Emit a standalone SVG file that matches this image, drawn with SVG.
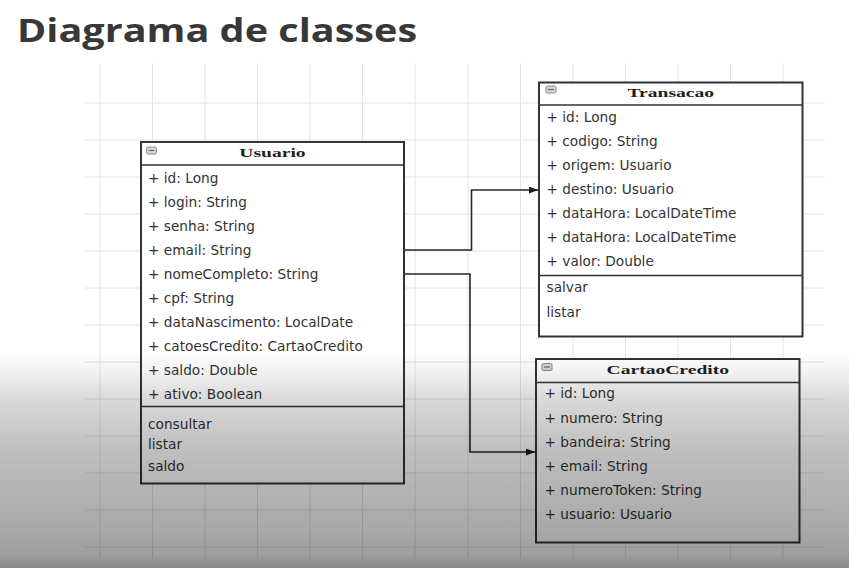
<svg xmlns="http://www.w3.org/2000/svg" width="849" height="568" viewBox="0 0 849 568">
  <defs>
    <style>
      .grid line { stroke: #e4e4e4; stroke-width: 1; }
      .box { fill: #ffffff; stroke: #333333; stroke-width: 2; }
      .sep { stroke: #333333; stroke-width: 1.5; }
      .attr { font-family: "DejaVu Sans", "Liberation Sans", sans-serif; font-size: 13.7px; fill: #333333; }
      .hdr { font-family: "Liberation Serif", serif; font-weight: bold; font-size: 13.5px; fill: #1e1e1e; text-anchor: middle; }
      .icon { fill: #d6d6d6; stroke: #8a8a8a; stroke-width: 1; }
      .icon-bar { stroke: #666666; stroke-width: 1.2; }
      .conn { fill: none; stroke: #262626; stroke-width: 1.6; }
      .title { font-family: "Open Sans", "DejaVu Sans", sans-serif; font-weight: bold; font-size: 33px; fill: #383838; }
    </style>
    <marker id="arrow" markerUnits="userSpaceOnUse" markerWidth="10" markerHeight="8" refX="9" refY="3.5" orient="auto">
      <path d="M0,0 L9,3.5 L0,7 z" fill="#1a1a1a"/>
    </marker>
    <linearGradient id="shade" x1="0" y1="352" x2="0" y2="568" gradientUnits="userSpaceOnUse">
      <stop offset="0" stop-color="#000" stop-opacity="0"/>
      <stop offset="0.1" stop-color="#000" stop-opacity="0.06"/>
      <stop offset="0.22" stop-color="#000" stop-opacity="0.15"/>
      <stop offset="0.45" stop-color="#000" stop-opacity="0.25"/>
      <stop offset="0.82" stop-color="#000" stop-opacity="0.34"/>
      <stop offset="0.94" stop-color="#000" stop-opacity="0.38"/>
      <stop offset="1" stop-color="#000" stop-opacity="0.47"/>
    </linearGradient>
  </defs>

  <rect x="0" y="0" width="849" height="568" fill="#ffffff"/>

  <text class="title" transform="translate(17,42) scale(1.2,1)">Diagrama de classes</text>

  <g id="grid" class="grid">
    <line x1="100" y1="63" x2="100" y2="558"/>
    <line x1="152.5" y1="63" x2="152.5" y2="558"/>
    <line x1="205" y1="63" x2="205" y2="558"/>
    <line x1="257.5" y1="63" x2="257.5" y2="558"/>
    <line x1="310" y1="63" x2="310" y2="558"/>
    <line x1="362.5" y1="63" x2="362.5" y2="558"/>
    <line x1="415" y1="63" x2="415" y2="558"/>
    <line x1="468" y1="63" x2="468" y2="558"/>
    <line x1="520.5" y1="63" x2="520.5" y2="558"/>
    <line x1="573" y1="63" x2="573" y2="558"/>
    <line x1="625.5" y1="63" x2="625.5" y2="558"/>
    <line x1="678" y1="63" x2="678" y2="558"/>
    <line x1="730.5" y1="63" x2="730.5" y2="558"/>
    <line x1="783" y1="63" x2="783" y2="558"/>
    <line x1="85" y1="103" x2="825" y2="103"/>
    <line x1="85" y1="140" x2="825" y2="140"/>
    <line x1="85" y1="177" x2="825" y2="177"/>
    <line x1="85" y1="214" x2="825" y2="214"/>
    <line x1="85" y1="251" x2="825" y2="251"/>
    <line x1="85" y1="288" x2="825" y2="288"/>
    <line x1="85" y1="325" x2="825" y2="325"/>
    <line x1="85" y1="362" x2="825" y2="362"/>
    <line x1="85" y1="399" x2="825" y2="399"/>
    <line x1="85" y1="436" x2="825" y2="436"/>
    <line x1="85" y1="473" x2="825" y2="473"/>
    <line x1="85" y1="510" x2="825" y2="510"/>
    <line x1="85" y1="547" x2="825" y2="547"/>
  </g>

  <g id="connectors">
    <path class="conn" d="M404,250 H471.5 V190 H538" marker-end="url(#arrow)"/>
    <path class="conn" d="M404,274 H470 V452 H535" marker-end="url(#arrow)"/>
  </g>

  <g id="Usuario">
    <rect class="box" x="141" y="142" width="263" height="341.5"/>
    <line class="sep" x1="141" y1="165" x2="404" y2="165"/>
    <line class="sep" x1="141" y1="406.5" x2="404" y2="406.5"/>
    <rect class="icon" x="146.5" y="147" width="10" height="7" rx="1.5"/>
    <line class="icon-bar" x1="148.5" y1="150.5" x2="154.5" y2="150.5"/>
    <text class="hdr" transform="translate(272.5,157.3) scale(1.45,1)">Usuario</text>
    <text class="attr" x="148" y="182.5">+ id: Long</text>
    <text class="attr" x="148" y="206.5">+ login: String</text>
    <text class="attr" x="148" y="230.5">+ senha: String</text>
    <text class="attr" x="148" y="254.5">+ email: String</text>
    <text class="attr" x="148" y="278.5">+ nomeCompleto: String</text>
    <text class="attr" x="148" y="302.5">+ cpf: String</text>
    <text class="attr" x="148" y="326.5">+ dataNascimento: LocalDate</text>
    <text class="attr" x="148" y="350.5">+ catoesCredito: CartaoCredito</text>
    <text class="attr" x="148" y="374.5">+ saldo: Double</text>
    <text class="attr" x="148" y="398.5">+ ativo: Boolean</text>
    <text class="attr" x="148" y="429">consultar</text>
    <text class="attr" x="148" y="448.5">listar</text>
    <text class="attr" x="148" y="471">saldo</text>
  </g>

  <g id="Transacao">
    <rect class="box" x="539" y="82.5" width="263.5" height="254"/>
    <line class="sep" x1="539" y1="105" x2="802.5" y2="105"/>
    <line class="sep" x1="539" y1="275.5" x2="802.5" y2="275.5"/>
    <rect class="icon" x="546" y="86" width="10" height="7" rx="1.5"/>
    <line class="icon-bar" x1="548" y1="89.5" x2="554" y2="89.5"/>
    <text class="hdr" transform="translate(670.8,97.3) scale(1.45,1)">Transacao</text>
    <text class="attr" x="546.5" y="122.3">+ id: Long</text>
    <text class="attr" x="546.5" y="146.3">+ codigo: String</text>
    <text class="attr" x="546.5" y="170.3">+ origem: Usuario</text>
    <text class="attr" x="546.5" y="194.3">+ destino: Usuario</text>
    <text class="attr" x="546.5" y="218.3">+ dataHora: LocalDateTime</text>
    <text class="attr" x="546.5" y="242.3">+ dataHora: LocalDateTime</text>
    <text class="attr" x="546.5" y="266.3">+ valor: Double</text>
    <text class="attr" x="546.5" y="292.3">salvar</text>
    <text class="attr" x="546.5" y="317.3">listar</text>
  </g>

  <g id="CartaoCredito">
    <rect class="box" x="536" y="359" width="263.5" height="183.5"/>
    <line class="sep" x1="536" y1="382.5" x2="799.5" y2="382.5"/>
    <rect class="icon" x="542" y="363.5" width="10" height="7" rx="1.5"/>
    <line class="icon-bar" x1="544" y1="367" x2="550" y2="367"/>
    <text class="hdr" transform="translate(667.8,374) scale(1.45,1)">CartaoCredito</text>
    <text class="attr" x="544.5" y="398.3">+ id: Long</text>
    <text class="attr" x="544.5" y="422.7">+ numero: String</text>
    <text class="attr" x="544.5" y="446.8">+ bandeira: String</text>
    <text class="attr" x="544.5" y="471">+ email: String</text>
    <text class="attr" x="544.5" y="495.3">+ numeroToken: String</text>
    <text class="attr" x="544.5" y="519.3">+ usuario: Usuario</text>
  </g>

  <rect id="shade-overlay" x="0" y="352" width="849" height="216" fill="url(#shade)"/>
</svg>
